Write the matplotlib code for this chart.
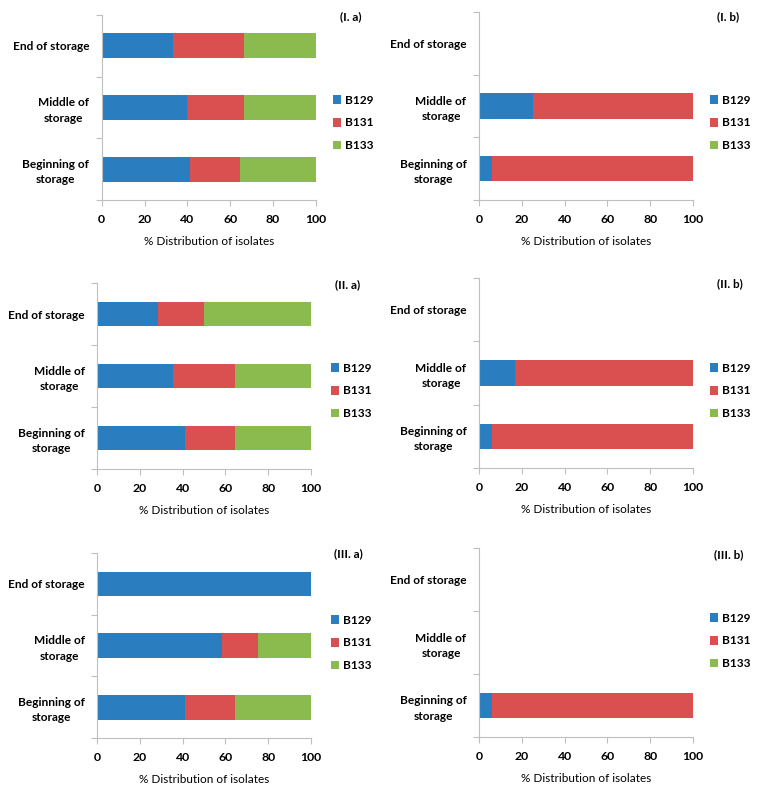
import matplotlib.pyplot as plt
import numpy as np

plt.rcParams['font.family'] = ['Lato', 'DejaVu Sans']
plt.rcParams['font.weight'] = 'bold'

stages = ['Beginning of\nstorage', 'Middle of\nstorage', 'End of storage']
strains = ['B129', 'B131', 'B133']
colors = ['#2a7ec0', '#da4f4f', '#8bbb4f']

# % share per stage (Beginning, Middle, End) for each strain
Ia_b129 = [41.2, 40.0, 33.3]
Ia_b131 = [23.5, 26.7, 33.3]
Ia_b133 = [35.3, 33.3, 33.4]

Ib_b129 = [5.9, 25.0, 0]
Ib_b131 = [94.1, 75.0, 0]
Ib_b133 = [0, 0, 0]

IIa_b129 = [41.2, 35.3, 28.6]
IIa_b131 = [23.5, 29.4, 21.4]
IIa_b133 = [35.3, 35.3, 50.0]

IIb_b129 = [5.9, 16.7, 0]
IIb_b131 = [94.1, 83.3, 0]
IIb_b133 = [0, 0, 0]

IIIa_b129 = [41.2, 58.3, 100.0]
IIIa_b131 = [23.5, 16.7, 0]
IIIa_b133 = [35.3, 25.0, 0]

IIIb_b129 = [5.9, 0, 0]
IIIb_b131 = [94.1, 0, 0]
IIIb_b133 = [0, 0, 0]

W, H = 759, 793
fig = plt.figure(figsize=(W / 100, H / 100), dpi=100)

# label, data, axes box in px (x0, x1, ytop, ybottom), label pos, legend x, legend centre y
panels = [
    ('(I. a)', (Ia_b129, Ia_b131, Ia_b133), (101.7, 315.7, 15, 200), (362, 17), 328, 123),
    ('(I. b)', (Ib_b129, Ib_b131, Ib_b133), (479, 693, 12, 200), (739, 17), 705, 123),
    ('(II. a)', (IIa_b129, IIa_b131, IIa_b133), (97, 311, 283, 469), (360, 285), 326, 391),
    ('(II. b)', (IIb_b129, IIb_b131, IIb_b133), (479, 693, 278, 468), (743, 284), 705, 391),
    ('(III. a)', (IIIa_b129, IIIa_b131, IIIa_b133), (97, 311, 553, 738), (363, 554), 326, 643),
    ('(III. b)', (IIIb_b129, IIIb_b131, IIIb_b133), (479, 693, 548, 737), (743, 555), 705, 641),
]

grey = '#bfbfbf'
for label, data, box, lpos, legx, legy in panels:
    x0, x1, yt, yb = box
    ax = fig.add_axes([x0 / W, 1 - yb / H, (x1 - x0) / W, (yb - yt) / H])
    y = np.arange(len(stages))
    left = np.zeros(len(stages))
    for name, vals, c in zip(strains, data, colors):
        ax.barh(y, vals, left=left, height=0.4, color=c, label=name)
        left = left + np.array(vals)
    ax.set_xlim(0, 100)
    ax.set_ylim(-0.5, 2.5)
    ax.set_xticks(np.arange(0, 101, 20))
    ax.set_yticks(y)
    ax.set_yticklabels(stages, ha='right', multialignment='center', fontsize=8.6,
                       linespacing=1.45)
    ax.set_yticks([-0.5, 0.5, 1.5, 2.5], minor=True)
    ax.tick_params(axis='y', which='major', length=0, pad=9)
    ax.tick_params(axis='y', which='minor', length=4, color=grey, width=0.8)
    ax.tick_params(axis='x', length=4, color=grey, width=0.8, labelsize=8.8, pad=6)
    for s in ['top', 'right']:
        ax.spines[s].set_visible(False)
    for s in ['left', 'bottom']:
        ax.spines[s].set_color(grey)
        ax.spines[s].set_linewidth(0.8)
    ax.set_xlabel('% Distribution of isolates', fontsize=8.5, labelpad=8)
    fig.text(lpos[0] / W, 1 - lpos[1] / H, label, ha='right', va='center',
             fontsize=8.5, fontweight='bold')
    ax.legend(loc='center left',
              bbox_to_anchor=((legx - x0) / (x1 - x0), (yb - legy) / (yb - yt)),
              frameon=False, fontsize=8.6, handlelength=0.7, handleheight=0.7,
              handletextpad=0.3, labelspacing=1.0, borderaxespad=0)

fig.savefig('out.png', dpi=100)
